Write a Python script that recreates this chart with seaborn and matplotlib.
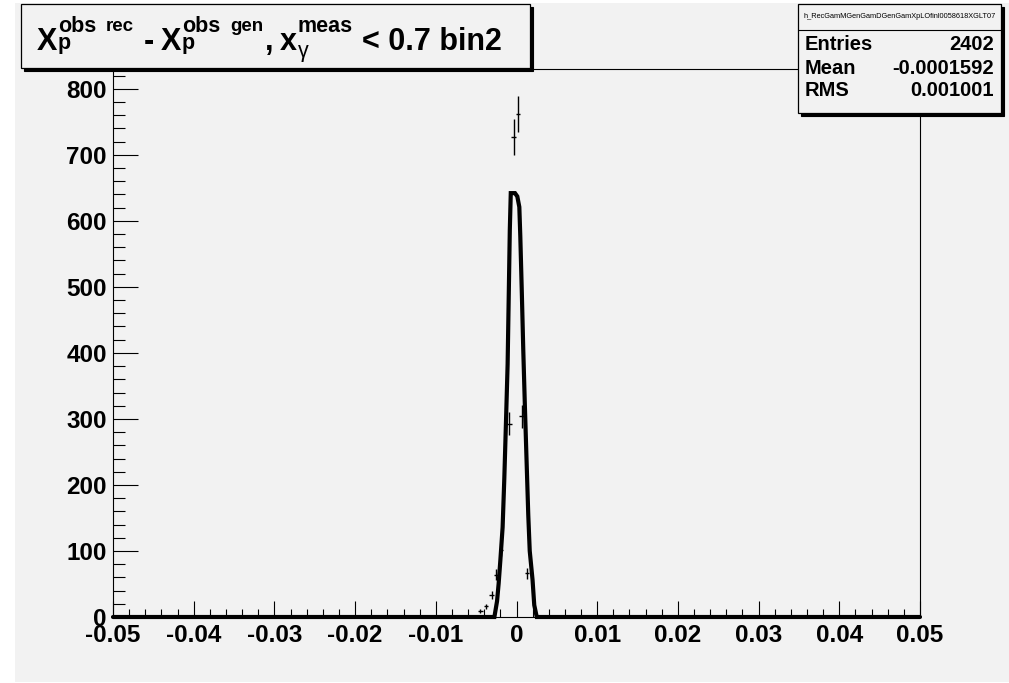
import numpy as np
import pandas as pd
import seaborn as sns
import matplotlib
matplotlib.use("Agg")
import matplotlib.pyplot as plt
from matplotlib.patches import Rectangle
from matplotlib.lines import Line2D
from matplotlib.ticker import MultipleLocator, FixedLocator

# ---------------- data ----------------
# reference (MC) curve
mc_x = [-0.05, -0.00274, -0.00241, -0.00221, -0.00200, -0.00172, -0.00151, -0.00130,
        -0.00110, -0.00095, -0.00083, -0.00071, -0.00019, 0.00010, 0.00035, 0.00047,
        0.00066, 0.00084, 0.00103, 0.00125, 0.00146, 0.00164, 0.00199, 0.00220, 0.00251, 0.05]
mc_y = [0, 0, 24, 51, 86, 136, 210, 297,
        383, 495, 586, 642, 642, 637, 621, 577,
        491, 404, 323, 236, 154, 100, 56, 18, 0, 0]

# data points (with sqrt(N) error bars)
data_x = [-0.00451, -0.00377, -0.00308, -0.00253, -0.00192, -0.00089, -0.00036, 0.00019, 0.00063, 0.00130]
data_y = [9, 16, 33, 64, 102, 293, 727, 762, 304, 66]

x_ticks = [-0.05, -0.04, -0.03, -0.02, -0.01, 0.0, 0.01, 0.02, 0.03, 0.04, 0.05]
x_tick_labels = ["-0.05", "-0.04", "-0.03", "-0.02", "-0.01", "0", "0.01", "0.02", "0.03", "0.04", "0.05"]
y_ticks = [0, 100, 200, 300, 400, 500, 600, 700, 800]
y_tick_labels = ["0", "100", "200", "300", "400", "500", "600", "700", "800"]

# title "X_p^{obs rec} - X_p^{obs gen}, x_γ^{meas} < 0.7 bin2", as pieces
title_main = ["X", "-", "X", ",", "x", "< 0.7 bin2"]
title_sub = ["p", "", "p", "", "γ", ""]
title_sup = ["obs", "", "obs", "", "meas", ""]
title_sup2 = ["rec", "", "gen", "", "", ""]
hist_name = "h_RecGamMGenGamDGenGamXpLOfinl0058618XGLT07"
stats_labels = ["Entries", "Mean", "RMS"]
stats_values = ["2402", "-0.0001592", "0.001001"]

# ---------------- style ----------------
sns.set_theme(style="ticks")
plt.rcParams["font.family"] = ["Liberation Sans", "DejaVu Sans"]
plt.rcParams["font.weight"] = "bold"
plt.rcParams["axes.unicode_minus"] = False

BG = "#f2f2f2"
W, H = 1009, 683
fig = plt.figure(figsize=(W / 100, H / 100), dpi=100, facecolor="white")
renderer = fig.canvas.get_renderer()


def fx(px):
    return px / W


def fy(py):
    return 1 - py / H


# gray canvas
fig.patches.append(Rectangle((fx(15), fy(682)), 1 - fx(15), fy(3) - fy(682),
                             transform=fig.transFigure, facecolor=BG,
                             edgecolor="none", zorder=-10))

ax = fig.add_axes([fx(113), fy(617), fx(920) - fx(113), fy(69) - fy(617)])
ax.set_facecolor(BG)

df_mc = pd.DataFrame({"x": mc_x, "y": mc_y})
sns.lineplot(data=df_mc, x="x", y="y", sort=False, estimator=None,
             color="black", linewidth=3.0, ax=ax, zorder=3)
for ln in ax.lines:
    ln.set_clip_on(False)
    ln.set_solid_joinstyle("miter")

ax.errorbar(data_x, data_y, yerr=np.sqrt(data_y), xerr=0.0003, fmt="none",
            ecolor="black", elinewidth=1.0, capsize=0, zorder=4)

ax.set_xlim(-0.05, 0.05)
ax.set_ylim(0, 830)
ax.set_xlabel("")
ax.set_ylabel("")

ax.xaxis.set_major_locator(FixedLocator(x_ticks))
ax.set_xticklabels(x_tick_labels)
ax.xaxis.set_minor_locator(MultipleLocator(0.002))
ax.yaxis.set_major_locator(FixedLocator(y_ticks))
ax.set_yticklabels(y_tick_labels)
ax.yaxis.set_minor_locator(MultipleLocator(20))

ax.tick_params(axis="x", which="major", direction="in", length=11.5, width=0.8,
               labelsize=17.5, pad=5.0, colors="black")
ax.tick_params(axis="x", which="minor", direction="in", length=6, width=0.8, colors="black")
ax.tick_params(axis="y", which="major", direction="in", length=18, width=0.8,
               labelsize=17.5, pad=4.5, colors="black")
ax.tick_params(axis="y", which="minor", direction="in", length=8.6, width=0.8, colors="black")
ax.tick_params(top=False, right=False, which="both")
for lab in ax.get_xticklabels() + ax.get_yticklabels():
    lab.set_fontweight("bold")
for sp in ax.spines.values():
    sp.set_visible(True)
    sp.set_linewidth(0.8)
    sp.set_color("black")


def box(x0, y0, x1, y1, shadow=3):
    fig.patches.append(Rectangle((fx(x0 + shadow), fy(y1 + shadow)),
                                 fx(x1) - fx(x0), fy(y0) - fy(y1),
                                 transform=fig.transFigure, facecolor="black",
                                 edgecolor="black", lw=0.8, zorder=5))
    fig.patches.append(Rectangle((fx(x0), fy(y1)), fx(x1) - fx(x0), fy(y0) - fy(y1),
                                 transform=fig.transFigure, facecolor=BG,
                                 edgecolor="black", lw=0.9, zorder=6))


def put(txt, lx, by, fs, weight="bold"):
    """Place text with its left edge at lx px and baseline at by px; return right edge px."""
    if not txt:
        return lx
    t = fig.text(fx(lx), fy(by), txt, ha="left", va="baseline", fontsize=fs,
                 fontweight=weight, color="black", zorder=7)
    bb = t.get_window_extent(renderer=renderer)
    return lx + bb.width


# title box
box(21, 4, 530, 68)
MAIN_FS, SUB_FS, SUP2_FS = 22, 15.5, 13.5
gaps_before = [0, 10, 6, 2, 6, 9]       # px gap before each main piece
x = 37
for i, m in enumerate(title_main):
    x += gaps_before[i]
    x = put(m, x, 50, MAIN_FS)
    x0 = x + 0.5
    w = "normal" if title_sub[i] == "γ" else "bold"
    e_sub = put(title_sub[i], x0, 49 if title_sub[i] != "γ" else 57, SUB_FS, w)
    e_sup = put(title_sup[i], x0, 31.5, SUB_FS)
    if title_sup2[i]:
        e_sup = put(title_sup2[i], e_sup + 10, 31, SUP2_FS)
    x = max(x, e_sub, e_sup)

# stats box
box(798, 4, 1001, 113)
fig.lines.append(Line2D([fx(798), fx(1001)], [fy(30), fy(30)], transform=fig.transFigure,
                        color="black", lw=0.8, zorder=7))
fig.text(fx(899.5), fy(16), hist_name, ha="center", va="center", fontsize=5.3,
         fontweight="normal", color="black", zorder=7)
for i, (lab, val) in enumerate(zip(stats_labels, stats_values)):
    yy = [45, 68, 91][i]
    fig.text(fx(805), fy(yy), lab, ha="left", va="center", fontsize=14.5,
             fontweight="bold", color="black", zorder=7)
    fig.text(fx(994), fy(yy), val, ha="right", va="center", fontsize=14.5,
             fontweight="bold", color="black", zorder=7)

fig.savefig("out.png", dpi=100, facecolor=fig.get_facecolor())
